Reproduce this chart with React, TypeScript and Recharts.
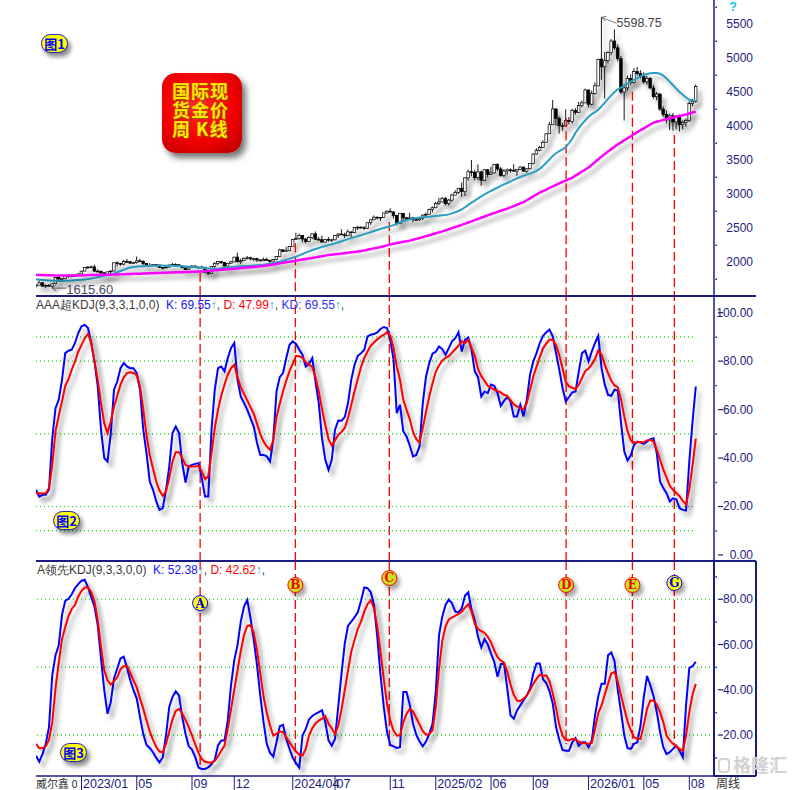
import React from 'react';
import { ComposedChart, Bar, Line, XAxis, YAxis, ReferenceLine, ReferenceDot } from 'recharts';

// weekly gold bars, week 0 = 2022-09-26
const opens = [
  1645, 1660, 1695, 1644, 1657, 1645, 1681, 1771, 1751, 1754,
  1797, 1797, 1793, 1798, 1824, 1866, 1920, 1926, 1928, 1865,
  1865, 1842, 1811, 1856, 1868, 1989, 1978, 1969, 2007, 2004,
  1983, 1990, 2017, 2011, 1978, 1946, 1948, 1961, 1957, 1921,
  1919, 1925, 1955, 1962, 1959, 1943, 1914, 1889, 1915, 1940,
  1919, 1924, 1925, 1849, 1833, 1933, 1981, 2006, 1993, 1940,
  1981, 2002, 2072, 2004, 2019, 2053, 2063, 2045, 2049, 2029,
  2018, 2039, 2024, 2013, 2035, 2083, 2179, 2155, 2165, 2230,
  2329, 2344, 2392, 2337, 2301, 2360, 2414, 2334, 2327, 2293,
  2333, 2321, 2326, 2392, 2411, 2400, 2386, 2443, 2431, 2507,
  2512, 2503, 2497, 2577, 2621, 2658, 2653, 2657, 2721, 2747,
  2736, 2685, 2563, 2716, 2650, 2633, 2648, 2622, 2621, 2640,
  2690, 2702, 2770, 2798, 2861, 2883, 2936, 2858, 2910, 2984,
  3023, 3085, 3037, 3237, 3327, 3319, 3240, 3325, 3203, 3357,
  3289, 3310, 3433, 3368, 3273, 3337, 3355, 3350, 3337, 3363,
  3397, 3336, 3372, 3448, 3587, 3643, 3685, 3760, 3886, 4018,
  4251, 4113, 4003, 4001, 4084, 4065, 4230, 4198, 4300, 4340,
  4530, 4320, 4480, 4590, 4985, 4870, 4960, 5080, 5250, 5150,
  4990, 4500, 4560, 4700, 4640, 4800, 4770, 4730, 4650, 4700,
  4560, 4430, 4470, 4250, 4170, 4090, 4150, 4060, 4130, 4020,
  4050, 4080, 4330, 4360,
];
const highs = [
  1676, 1730, 1697, 1670, 1675, 1685, 1775, 1786, 1761, 1804,
  1810, 1824, 1823, 1833, 1870, 1922, 1935, 1949, 1960, 1890,
  1865, 1847, 1858, 1870, 1989, 2010, 1988, 2032, 2048, 2015,
  2005, 2081, 2048, 2022, 1984, 1983, 1972, 1971, 1958, 1926,
  1935, 1962, 1987, 1982, 1970, 1948, 1920, 1925, 1953, 1953,
  1933, 1947, 1925, 1851, 1935, 1997, 2009, 2007, 1993, 1986,
  2017, 2075, 2135, 2047, 2070, 2088, 2078, 2062, 2062, 2041,
  2066, 2065, 2033, 2041, 2088, 2195, 2182, 2222, 2236, 2330,
  2431, 2418, 2392, 2353, 2378, 2422, 2450, 2364, 2388, 2335,
  2368, 2340, 2392, 2425, 2483, 2432, 2477, 2445, 2509, 2531,
  2526, 2529, 2580, 2625, 2685, 2672, 2661, 2722, 2758, 2790,
  2750, 2686, 2721, 2721, 2657, 2726, 2665, 2639, 2665, 2697,
  2725, 2786, 2817, 2886, 2942, 2955, 2956, 2930, 3005, 3057,
  3086, 3168, 3245, 3358, 3500, 3352, 3435, 3345, 3366, 3366,
  3403, 3446, 3452, 3398, 3365, 3375, 3377, 3438, 3363, 3409,
  3404, 3380, 3453, 3600, 3674, 3707, 3791, 3897, 4059, 4381,
  4255, 4140, 4047, 4245, 4132, 4256, 4264, 4353, 4374, 4550,
  4535, 4520, 4640, 4990, 5598.75, 5090, 5100, 5280, 5420, 5200,
  5030, 4620, 4740, 4760, 4850, 4870, 4820, 4790, 4740, 4720,
  4600, 4500, 4480, 4290, 4230, 4180, 4190, 4160, 4170, 4080,
  4110, 4360, 4400, 4610,
];
const lows = [
  1620, 1660, 1640, 1618, 1637, 1615.6, 1673, 1727, 1721, 1745,
  1765, 1773, 1784, 1795, 1822, 1865, 1896, 1911, 1861, 1852,
  1819, 1804, 1804, 1809, 1858, 1934, 1944, 1950, 1993, 1970,
  1975, 1977, 2001, 1952, 1932, 1938, 1935, 1925, 1911, 1893,
  1902, 1920, 1953, 1942, 1930, 1911, 1885, 1885, 1913, 1915,
  1901, 1914, 1846, 1810, 1823, 1908, 1954, 1970, 1932, 1935,
  1978, 1995, 1995, 1973, 2016, 2034, 2024, 2013, 2001, 2010,
  2016, 2015, 1984, 2010, 2025, 2080, 2146, 2146, 2160, 2228,
  2323, 2330, 2291, 2277, 2298, 2333, 2325, 2320, 2287, 2286,
  2296, 2293, 2319, 2353, 2393, 2353, 2380, 2364, 2430, 2470,
  2491, 2472, 2485, 2546, 2614, 2625, 2603, 2651, 2708, 2727,
  2644, 2537, 2560, 2605, 2614, 2630, 2583, 2612, 2600, 2615,
  2659, 2700, 2730, 2790, 2835, 2880, 2833, 2832, 2880, 2981,
  3000, 2957, 2970, 3193, 3260, 3202, 3202, 3120, 3190, 3245,
  3280, 3300, 3340, 3255, 3247, 3283, 3310, 3324, 3268, 3352,
  3330, 3312, 3362, 3436, 3578, 3628, 3683, 3755, 3883, 4015,
  4004, 3887, 3931, 3997, 4022, 4033, 4165, 4190, 4271, 4340,
  4275, 4305, 4460, 4590, 4680, 4402, 4920, 5040, 5120, 4950,
  4470, 4080, 4520, 4600, 4620, 4740, 4700, 4620, 4610, 4540,
  4400, 4380, 4220, 4130, 4040, 3940, 3930, 3950, 3920, 3950,
  3990, 4060, 4290, 4340,
];
const closes = [
  1660, 1695, 1644, 1657, 1645, 1681, 1771, 1751, 1754, 1797,
  1797, 1793, 1798, 1824, 1866, 1920, 1926, 1928, 1865, 1865,
  1842, 1811, 1856, 1868, 1989, 1978, 1969, 2007, 2004, 1983,
  1990, 2017, 2011, 1978, 1946, 1948, 1961, 1957, 1921, 1919,
  1925, 1955, 1962, 1959, 1943, 1914, 1889, 1915, 1940, 1919,
  1924, 1925, 1849, 1833, 1933, 1981, 2006, 1993, 1940, 1981,
  2002, 2072, 2004, 2019, 2053, 2063, 2045, 2049, 2029, 2018,
  2039, 2024, 2013, 2035, 2083, 2179, 2155, 2165, 2230, 2329,
  2344, 2392, 2337, 2301, 2360, 2414, 2334, 2327, 2293, 2333,
  2321, 2326, 2392, 2411, 2400, 2386, 2443, 2431, 2507, 2512,
  2503, 2497, 2577, 2621, 2658, 2653, 2657, 2721, 2747, 2736,
  2685, 2563, 2716, 2650, 2633, 2648, 2622, 2621, 2640, 2690,
  2702, 2770, 2798, 2861, 2883, 2936, 2858, 2910, 2984, 3023,
  3085, 3037, 3237, 3327, 3319, 3240, 3325, 3203, 3357, 3289,
  3310, 3433, 3368, 3273, 3337, 3355, 3350, 3337, 3363, 3397,
  3336, 3372, 3448, 3587, 3643, 3685, 3760, 3886, 4018, 4251,
  4113, 4003, 4001, 4084, 4065, 4230, 4198, 4300, 4340, 4530,
  4320, 4480, 4590, 4980, 4870, 4960, 5080, 5250, 5150, 4990,
  4500, 4560, 4700, 4640, 4800, 4770, 4730, 4650, 4700, 4560,
  4430, 4470, 4250, 4170, 4090, 4150, 4060, 4130, 4020, 4050,
  4080, 4330, 4360, 4580,
];
const maShort = [
  1745, 1740, 1736, 1732, 1728, 1725, 1723, 1722, 1722, 1723,
  1725, 1727, 1730, 1734, 1738, 1744, 1750, 1758, 1767, 1776,
  1786, 1797, 1808, 1820, 1833, 1850, 1868, 1886, 1904, 1920,
  1928, 1933, 1936, 1939, 1941, 1943, 1945, 1946, 1947, 1947,
  1946, 1945, 1944, 1943, 1941, 1938, 1935, 1931, 1927, 1923,
  1920, 1916, 1911, 1905, 1899, 1897, 1902, 1908, 1914, 1920,
  1926, 1931, 1935, 1938, 1940, 1942, 1945, 1949, 1952, 1956,
  1960, 1968, 1977, 1986, 1995, 2005, 2018, 2032, 2047, 2062,
  2078, 2097, 2117, 2137, 2157, 2176, 2192, 2207, 2222, 2236,
  2248, 2262, 2276, 2290, 2305, 2321, 2336, 2351, 2366, 2381,
  2394, 2410, 2425, 2440, 2455, 2470, 2485, 2500, 2514, 2528,
  2542, 2564, 2582, 2600, 2615, 2627, 2640, 2647, 2652, 2658,
  2663, 2667, 2672, 2676, 2681, 2686, 2690, 2700, 2715, 2732,
  2750, 2775, 2805, 2840, 2872, 2903, 2935, 2965, 2993, 3020,
  3045, 3070, 3095, 3120, 3142, 3162, 3185, 3208, 3230, 3250,
  3268, 3285, 3300, 3318, 3340, 3370, 3410, 3460, 3510, 3560,
  3600, 3630, 3655, 3690, 3750, 3815, 3900, 3970, 4030, 4085,
  4135, 4175, 4205, 4240, 4290, 4345, 4400, 4450, 4500, 4540,
  4565, 4595, 4625, 4655, 4680, 4705, 4730, 4750, 4765, 4775,
  4778, 4778, 4770, 4740, 4700, 4650, 4600, 4550, 4500, 4460,
  4420, 4385, 4375, 4372,
];
const maLong = [
  1809, 1808, 1807, 1806, 1805, 1804, 1803, 1802, 1801, 1800,
  1800, 1800, 1801, 1802, 1803, 1805, 1806, 1808, 1809, 1810,
  1811, 1812, 1813, 1814, 1815, 1816, 1818, 1820, 1822, 1824,
  1826, 1827, 1829, 1830, 1832, 1834, 1836, 1838, 1840, 1842,
  1843, 1845, 1846, 1848, 1850, 1851, 1853, 1854, 1856, 1858,
  1860, 1862, 1865, 1869, 1873, 1877, 1881, 1885, 1889, 1894,
  1898, 1902, 1906, 1910, 1914, 1918, 1922, 1926, 1931, 1936,
  1941, 1948, 1956, 1964, 1972, 1980, 1988, 1996, 2004, 2012,
  2020, 2028, 2036, 2044, 2052, 2060, 2068, 2076, 2085, 2094,
  2102, 2108, 2113, 2118, 2124, 2130, 2136, 2142, 2148, 2155,
  2161, 2170, 2180, 2190, 2200, 2210, 2220, 2232, 2244, 2256,
  2268, 2278, 2288, 2297, 2306, 2314, 2327, 2340, 2353, 2366,
  2380, 2394, 2408, 2422, 2436, 2450, 2466, 2482, 2498, 2514,
  2530, 2547, 2564, 2581, 2598, 2615, 2633, 2651, 2669, 2687,
  2705, 2721, 2737, 2753, 2769, 2785, 2804, 2823, 2842, 2861,
  2880, 2908, 2936, 2964, 2992, 3020, 3043, 3066, 3089, 3112,
  3135, 3156, 3177, 3198, 3219, 3240, 3270, 3300, 3330, 3360,
  3390, 3430, 3470, 3510, 3550, 3590, 3625, 3660, 3695, 3730,
  3760, 3790, 3820, 3850, 3880, 3910, 3938, 3966, 3994, 4022,
  4050, 4063, 4076, 4089, 4102, 4115, 4126, 4137, 4148, 4159,
  4170, 4184, 4198, 4211,
];

// AAA超KDJ
const superK = [
  26.9, 24.1, 24.8, 24.8, 27, 48, 60.6, 64.1, 72.3, 83.3,
  84.3, 84.7, 87.5, 91.6, 94.4, 95.0, 93.7, 87.5, 79.9, 69.6,
  51.7, 40.0, 38.6, 50.0, 68.2, 71.6, 77.1, 79.2, 77.8, 77.1,
  77.1, 75.1, 68.2, 51.7, 42.0, 30.3, 26.9, 22.1, 18.6, 19.3,
  26.9, 36.5, 50.3, 53.0, 50.3, 37.9, 29.9, 36.5, 37.2, 37.6,
  37.9, 31.7, 24.1, 24.1, 51.7, 68.2, 77.1, 77.8, 75.8, 81.3,
  85.4, 87.5, 72.3, 65.4, 62.7, 59.9, 56.5, 53.0, 46.2, 41.3,
  41.3, 40.7, 38.6, 47.5, 67.5, 73.4, 75.1, 81.3, 86.8, 88.2,
  87.1, 84.7, 82.6, 77.8, 78.9, 81.3, 71.6, 62.7, 48.2, 39.3,
  35.1, 39.3, 51.7, 55.5, 55.4, 56.9, 62.7, 72.3, 78.5, 82.2,
  83.3, 84.7, 90.2, 90.9, 91.2, 91.9, 93.3, 94.1, 93.7, 88.8,
  80.6, 58.5, 62.0, 51.0, 48.9, 45.1, 40.7, 41.3, 44.8, 62.7,
  73.7, 79.2, 83.1, 83.9, 86.1, 85.0, 82.6, 85.4, 88.2, 89.5,
  91.9, 84.0, 88.8, 89.8, 84.7, 75.8, 73.4, 65.4, 67.5, 66.8,
  70.3, 69.8, 66.8, 61.6, 63.6, 65.2, 63.4, 57.2, 57.2, 62.0,
  57.2, 64.1, 74.4, 79.9, 83.3, 87.5, 90.5, 91.9, 93.0, 90.2,
  83.3, 76.5, 68.9, 63.4, 65.2, 67.1, 67.5, 75.8, 83.3, 84.3,
  79.9, 84.0, 87.5, 90.5, 77.1, 70.3, 66.1, 65.7, 68.2, 67.9,
  54.4, 42.7, 39.0, 41.1, 45.5, 46.8, 46.4, 45.9, 46.8, 47.8,
  48.2, 42.0, 30.3, 27.6, 25.5, 22.1, 23.4, 23.0, 19.3, 18.6,
  18.3, 38.6, 55.1, 69.55,
];
const superD = [
  25.5, 25.5, 25.4, 25.5, 27.6, 37.2, 51.0, 57.5, 63.4, 69.8,
  72.6, 76.5, 79.9, 83.9, 86.6, 89.4, 91.3, 87.5, 79.9, 72.3,
  62.7, 54.4, 50.3, 55.1, 61.3, 65.7, 70.3, 73.4, 75.1, 75.4,
  75.1, 74.2, 69.6, 60.2, 49.5, 41.2, 35.7, 30.3, 26.6, 24.4,
  26.2, 31.7, 38.6, 42.4, 42.4, 40.0, 37.2, 36.5, 36.5, 36.5,
  36.8, 34.5, 31.3, 32.4, 42.0, 52.4, 59.9, 65.7, 70.3, 74.4,
  77.1, 78.5, 73.4, 69.3, 66.5, 63.8, 61.0, 58.3, 54.1, 50.0,
  46.8, 44.8, 43.4, 47.3, 56.9, 62.4, 67.6, 71.9, 75.9, 78.9,
  82.2, 82.0, 81.4, 79.5, 78.7, 77.6, 73.4, 67.5, 60.2, 53.7,
  47.8, 45.1, 47.3, 49.6, 50.8, 52.4, 56.5, 62.0, 67.5, 72.6,
  77.6, 81.3, 84.0, 86.4, 87.7, 89.0, 90.1, 90.8, 91.9, 90.5,
  85.4, 77.8, 72.3, 64.1, 59.9, 56.1, 50.8, 47.8, 46.4, 52.4,
  59.1, 65.4, 70.9, 75.6, 78.2, 80.2, 81.4, 82.1, 83.5, 84.9,
  86.4, 88.2, 87.5, 88.8, 85.5, 82.2, 76.7, 73.8, 71.9, 69.8,
  69.0, 68.3, 67.6, 67.1, 66.1, 65.7, 63.9, 62.1, 61.3, 60.6,
  60.2, 62.7, 68.2, 73.7, 77.7, 81.7, 85.3, 87.3, 88.8, 88.8,
  86.6, 82.4, 77.0, 71.5, 69.7, 69.0, 68.5, 70.3, 73.1, 75.9,
  77.0, 78.7, 80.9, 84.4, 82.8, 78.5, 75.1, 71.9, 70.0, 69.3,
  64.1, 57.2, 51.1, 47.3, 46.4, 46.4, 46.7, 46.4, 47.3, 47.5,
  46.8, 43.4, 39.3, 35.3, 32.0, 28.5, 26.9, 25.6, 24.3, 22.3,
  20.8, 26.9, 37.2, 47.99,
];

// A领先KDJ
const leadK = [
  10.9, 8.2, 11.6, 16.1, 23.5, 46.4, 55.3, 59.7, 73.1, 79.3,
  80.2, 82.2, 84.9, 86.7, 88.2, 88.6, 85.3, 80.9, 76.8, 68.6,
  53.8, 39.8, 29.4, 34.6, 45.0, 49.4, 53.8, 54.6, 49.7, 44.2,
  39.8, 36.1, 27.9, 20.5, 15.6, 14.3, 12.4, 9.9, 7.9, 10.2,
  19.8, 32.4, 36.8, 39.3, 37.5, 27.9, 20.5, 15.0, 13.6, 10.2,
  5.6, 5.0, 5.0, 5.7, 7.2, 9.1, 15.4, 17.6, 17.6, 26.4,
  42.0, 53.1, 59.7, 70.1, 76.8, 79.7, 71.6, 62.0, 50.9, 37.5,
  25.7, 16.1, 12.1, 10.5, 16.8, 23.9, 24.5, 18.3, 13.9, 9.9,
  7.6, 5.6, 19.8, 22.7, 26.9, 28.4, 29.4, 30.1, 30.9, 25.7,
  17.6, 15.3, 18.3, 32.8, 47.2, 60.5, 68.3, 70.1, 72.0, 74.2,
  79.3, 85.2, 84.9, 83.1, 77.5, 63.4, 46.4, 32.4, 21.3, 15.6,
  15.0, 14.3, 14.6, 39.0, 39.0, 33.4, 25.0, 20.1, 17.1, 15.0,
  17.1, 20.5, 25.0, 39.0, 64.2, 72.3, 77.5, 79.9, 78.2, 74.5,
  74.2, 76.0, 81.6, 83.1, 75.3, 70.8, 63.4, 58.7, 62.4, 60.0,
  56.0, 52.3, 45.7, 51.3, 51.6, 40.5, 28.7, 27.2, 30.9, 33.1,
  35.3, 37.5, 40.5, 47.2, 51.6, 51.6, 44.6, 43.0, 39.3, 33.8,
  23.5, 17.9, 13.4, 13.1, 13.1, 16.8, 18.6, 15.3, 16.8, 16.8,
  14.6, 17.6, 28.7, 37.2, 42.7, 42.7, 55.3, 56.5, 52.6, 39.8,
  30.1, 19.8, 14.2, 13.9, 16.1, 16.8, 24.2, 36.8, 46.1, 42.0,
  37.2, 30.1, 21.3, 14.6, 11.6, 12.4, 13.9, 15.3, 13.1, 10.2,
  33.1, 49.7, 50.4, 52.38,
];
const leadD = [
  16.1, 14.2, 14.2, 15.0, 18.0, 25.7, 40.5, 52.0, 62.4, 67.7,
  72.5, 75.7, 77.5, 81.2, 83.7, 85.2, 85.3, 83.1, 79.0, 70.8,
  59.0, 48.6, 44.2, 42.3, 43.8, 45.5, 49.1, 50.4, 50.6, 47.4,
  44.1, 41.1, 36.1, 31.6, 26.6, 21.6, 17.9, 14.7, 12.7, 12.4,
  16.2, 21.6, 26.9, 30.7, 31.6, 29.4, 26.6, 23.5, 19.8, 15.9,
  12.1, 9.4, 8.2, 7.9, 7.9, 8.5, 10.6, 13.1, 15.3, 22.7,
  31.3, 40.1, 48.6, 57.1, 64.2, 68.2, 68.6, 65.2, 57.5, 47.2,
  37.1, 29.8, 24.2, 19.8, 20.5, 21.6, 21.3, 19.0, 16.8, 14.6,
  12.7, 11.3, 10.9, 13.9, 19.8, 23.0, 25.1, 26.4, 27.2, 28.4,
  25.0, 23.0, 20.5, 24.2, 31.3, 39.9, 48.6, 56.8, 62.0, 66.8,
  70.1, 74.5, 77.8, 79.6, 76.0, 67.9, 56.8, 44.6, 33.8, 26.4,
  22.0, 19.8, 19.8, 25.6, 29.3, 31.5, 30.4, 27.5, 24.7, 21.7,
  20.2, 20.4, 22.1, 32.4, 49.4, 61.5, 67.9, 71.1, 71.9, 72.8,
  73.5, 74.5, 76.3, 77.8, 74.5, 69.1, 66.8, 65.9, 65.2, 63.4,
  60.9, 57.4, 54.4, 52.9, 52.0, 47.9, 42.3, 37.8, 35.2, 35.0,
  36.1, 37.5, 39.8, 42.6, 44.8, 46.7, 46.1, 46.4, 43.8, 38.3,
  31.9, 24.5, 19.8, 17.9, 17.6, 18.3, 18.0, 17.1, 16.4, 16.5,
  16.1, 16.5, 22.7, 29.7, 33.1, 37.8, 42.7, 47.2, 47.9, 43.5,
  37.5, 31.6, 26.1, 22.1, 19.0, 18.4, 18.3, 24.5, 31.6, 35.3,
  35.3, 33.4, 30.1, 25.7, 19.8, 17.6, 16.1, 15.0, 13.9, 13.1,
  19.8, 30.1, 37.8, 42.62,
];

const monthTicks = [14, 31, 48, 61, 79, 92, 109, 123, 140, 153, 170, 187, 201];
const monthLabels = ['2023/01', '05', '09', '12', '2024/04', '07', '11', '2025/02', '06', '09', '2026/01', '05', '08'];

const priceTicks = [1750, 2000, 2250, 2500, 2750, 3000, 3250, 3500, 3750, 4000, 4250, 4500, 4750, 5000, 5250, 5500, 5750];
const superTicks = [0, 10, 20, 30, 40, 50, 60, 70, 80, 90, 100];
const leadTicks = [10, 20, 30, 40, 50, 60, 70, 80, 90];
const superGrid = [90, 80, 50, 20, 10];
const leadGrid = [80, 50, 20];

// signal markers A..G
const signalWeeks = [50.5, 79.8, 108.7, 163.1, 183.5, 196.4];
const signalNames = ['A', 'B', 'C', 'D', 'E', 'G'];
const signalPrices = [1838, 2275, 2590, 4113, 4505, 3868];
const signalMarkLevels = [78.3, 86.3, 89.4, 86.3, 86.3, 87.2];
const signalEndLevels = [5, 7, 15, 16, 14, 16];

const data = closes.map((close, i) => ({
  i,
  open: opens[i],
  high: highs[i],
  low: lows[i],
  close,
  range: [lows[i], highs[i]],
  ma20: maShort[i],
  ma60: maLong[i],
  k: superK[i],
  d: superD[i],
  lk: leadK[i],
  ld: leadD[i],
}));

const NAVY = '#1c1c80';
const FONT = 'Arial, "Liberation Sans", sans-serif';
const CJK = '"Noto Sans CJK SC", sans-serif';
const X_DOMAIN: [number, number] = [0, 208.6];
const margin = { top: 0, right: 45, bottom: 0, left: 36 };

const Candle = (props: any) => {
  const { x, y, width, height, payload } = props;
  const { open, close, high, low } = payload;
  const cx = x + width / 2;
  const span = high - low || 1;
  const py = (v: number) => y + ((high - v) / span) * height;
  const top = py(Math.max(open, close));
  const bot = py(Math.min(open, close));
  const up = close >= open;
  return (
    <g>
      <line x1={cx} x2={cx} y1={y} y2={y + height} stroke="#000" strokeWidth={0.9} />
      <rect x={cx - 1.3} y={top} width={2.6} height={Math.max(bot - top, 0.8)} fill={up ? '#fff' : '#000'} stroke="#000" strokeWidth={0.7} />
    </g>
  );
};

const PriceTick = (p: any) => {
  const v = p.payload.value;
  if (v % 500 !== 0) return <rect x={p.x + 1.5} y={p.y - 0.5} width={1.5} height={1.5} fill={NAVY} />;
  return (
    <text x={p.x + 39} y={p.y} textAnchor="end" dominantBaseline="central" fontSize={12} fontFamily={FONT} fill={NAVY}>
      {v}
    </text>
  );
};

const makeKdjTick = (isMajor: (v: number) => boolean) => (p: any) => {
  const v = p.payload.value;
  if (!isMajor(v)) return <rect x={p.x + 1.5} y={p.y - 0.5} width={1.5} height={1.5} fill={NAVY} />;
  return (
    <g>
      <line x1={p.x + 4} x2={p.x + 9} y1={p.y} y2={p.y} stroke={NAVY} strokeWidth={1.2} />
      <text x={p.x + 39} y={p.y} textAnchor="end" dominantBaseline="central" fontSize={12} fontFamily={FONT} fill={NAVY}>
        {v.toFixed(2)}
      </text>
    </g>
  );
};
const SuperTick = makeKdjTick((v) => v % 20 === 0);
const LeadTick = makeKdjTick((v) => v % 20 === 0);

const MonthTick = (p: any) => {
  const idx = monthTicks.indexOf(p.payload.value);
  return (
    <g>
      <line x1={p.x} x2={p.x} y1={p.y} y2={p.y + 14} stroke={NAVY} strokeWidth={1} />
      <text x={p.x + 1.5} y={p.y + 12} fontSize={12.5} fontFamily={FONT} fill={NAVY}>
        {monthLabels[idx]}
      </text>
    </g>
  );
};

const PeakLabel = (p: any) => (
  <g>
    <line x1={p.cx} y1={p.cy} x2={p.cx + 15} y2={p.cy + 6} stroke="#555" strokeWidth={0.8} />
    <polyline points={`${p.cx + 5},${p.cy - 1} ${p.cx},${p.cy} ${p.cx + 4},${p.cy + 4}`} fill="none" stroke="#555" strokeWidth={0.8} />
    <text x={p.cx + 15} y={p.cy + 6} dominantBaseline="central" fontSize={12.5} fontFamily={FONT} fill="#444">
      5598.75
    </text>
  </g>
);

const LowLabel = (p: any) => (
  <g>
    <line x1={p.cx} y1={p.cy} x2={p.cx + 14} y2={p.cy} stroke="#444" strokeWidth={0.8} />
    <polyline points={`${p.cx + 4},${p.cy - 3} ${p.cx},${p.cy} ${p.cx + 4},${p.cy + 3}`} fill="none" stroke="#444" strokeWidth={0.8} />
    <text x={p.cx + 14} y={p.cy + 1} dominantBaseline="central" fontSize={13} fontFamily={FONT} fill="#4a4a66">
      1615.60
    </text>
  </g>
);

const SignalMark = ({ cx, cy, letter }: any) => {
  const blue = letter === 'A' || letter === 'G';
  return (
    <g>
      <circle cx={cx + 3} cy={cy + 4} r={8} fill="#000" opacity={0.35} filter="url(#blurMark)" />
      <circle cx={cx} cy={cy} r={7.5} fill={blue ? '#ffff00' : '#c4e41c'} stroke={blue ? '#0000ff' : '#ff0000'} strokeWidth={1} />
      <text x={cx} y={cy + 0.5} textAnchor="middle" dominantBaseline="central" fontSize={12} fontWeight="bold" fontFamily='"DejaVu Serif", serif' fill={blue ? '#0000ff' : '#ff0000'}>
        {letter}
      </text>
    </g>
  );
};

const Badge = ({ left, top, n }: { left: number; top: number; n: number }) => (
  <div
    style={{
      position: 'absolute', left, top, width: 27, height: 19, borderRadius: 10, background: '#ffff00',
      border: '1px solid #2020c0', boxShadow: '3px 4px 4px rgba(0,0,0,0.45)', color: '#0000ff',
      font: `bold 13px ${CJK}`, lineHeight: '17px', textAlign: 'center', boxSizing: 'border-box',
    }}
  >
    图{n}
  </div>
);

const dash = { stroke: '#ff0000', strokeWidth: 1.3, strokeDasharray: '9 4' };
const shadowCss = '.sh { filter: url(#ds); }';

export default function App() {
  return (
    <div style={{ position: 'absolute', left: 0, top: 0, width: 801, height: 790, background: '#fff', overflow: 'hidden' }}>
      <style>{shadowCss}</style>
      <svg width={0} height={0} style={{ position: 'absolute' }}>
        <defs>
          <filter id="ds" x="-5%" y="-10%" width="115%" height="130%">
            <feDropShadow dx="4" dy="5" stdDeviation="2" floodColor="#000" floodOpacity="0.33" />
          </filter>
          <filter id="blurMark" x="-50%" y="-50%" width="200%" height="200%">
            <feGaussianBlur stdDeviation="2" />
          </filter>
        </defs>
      </svg>

      {/* panel 1: weekly candles */}
      <div style={{ position: 'absolute', left: 0, top: 0 }}>
        <ComposedChart width={801} height={296} data={data} margin={margin}>
          <XAxis dataKey="i" type="number" domain={X_DOMAIN} hide allowDataOverflow />
          <YAxis
            orientation="right" width={42} domain={[1500, 5853]} ticks={priceTicks} interval={0} allowDataOverflow
            tickSize={0} tickMargin={0} tickLine={false} axisLine={{ stroke: NAVY, strokeWidth: 1.5 }} tick={PriceTick}
          />
          {signalWeeks.map((w, n) => (
            <ReferenceLine key={n} segment={[{ x: w, y: signalPrices[n] }, { x: w, y: 1500 }]} {...dash} />
          ))}
          <Bar dataKey="range" barSize={3} shape={(p: any) => <Candle {...p} />} isAnimationActive={false} className="sh" />
          <Line dataKey="ma20" stroke="#2a9ec0" strokeWidth={2} dot={false} isAnimationActive={false} className="sh" />
          <Line dataKey="ma60" stroke="#ff00ff" strokeWidth={2.5} dot={false} isAnimationActive={false} className="sh" />
          <ReferenceDot x={174} y={5598.75} r={0} shape={PeakLabel} ifOverflow="visible" />
          <ReferenceDot x={5} y={1615.6} r={0} shape={LowLabel} ifOverflow="visible" />
        </ComposedChart>
      </div>

      {/* panel 2: AAA超KDJ */}
      <div style={{ position: 'absolute', left: 0, top: 296 }}>
        <ComposedChart width={801} height={265} data={data} margin={margin}>
          <XAxis dataKey="i" type="number" domain={X_DOMAIN} hide allowDataOverflow />
          <YAxis
            orientation="right" width={42} domain={[-2.5, 106.9]} ticks={superTicks} interval={0} allowDataOverflow
            tickSize={0} tickMargin={0} tickLine={false} axisLine={{ stroke: NAVY, strokeWidth: 1.5 }} tick={SuperTick}
          />
          {superGrid.map((g) => (
            <ReferenceLine key={g} segment={[{ x: 0, y: g }, { x: 203, y: g }]} stroke="#00d800" strokeDasharray="1 3" strokeWidth={1.2} />
          ))}
          {signalWeeks.map((w, n) => (
            <ReferenceLine key={n} x={w} {...dash} />
          ))}
          <Line dataKey="k" stroke="#0000ff" strokeWidth={2} dot={false} isAnimationActive={false} className="sh" />
          <Line dataKey="d" stroke="#ff0000" strokeWidth={2} dot={false} isAnimationActive={false} className="sh" />
        </ComposedChart>
      </div>

      {/* panel 3: A领先KDJ */}
      <div style={{ position: 'absolute', left: 0, top: 561 }}>
        <ComposedChart width={801} height={229} data={data} margin={margin}>
          <XAxis
            dataKey="i" type="number" domain={X_DOMAIN} allowDataOverflow ticks={monthTicks} interval={0} height={14}
            tickSize={0} tickMargin={0} tickLine={false} axisLine={{ stroke: NAVY, strokeWidth: 1.5 }} tick={MonthTick}
          />
          <YAxis
            orientation="right" width={42} domain={[1.9, 96.9]} ticks={leadTicks} interval={0} allowDataOverflow
            tickSize={0} tickMargin={0} tickLine={false} axisLine={{ stroke: NAVY, strokeWidth: 2 }} tick={LeadTick}
          />
          {leadGrid.map((g) => (
            <ReferenceLine key={g} y={g} stroke="#00d800" strokeDasharray="1 3" strokeWidth={1.2} />
          ))}
          {signalWeeks.map((w, n) => (
            <ReferenceLine key={n} segment={[{ x: w, y: 96.9 }, { x: w, y: signalEndLevels[n] }]} {...dash} />
          ))}
          <Line dataKey="lk" stroke="#0000ff" strokeWidth={2} dot={false} isAnimationActive={false} className="sh" />
          <Line dataKey="ld" stroke="#ff0000" strokeWidth={2} dot={false} isAnimationActive={false} className="sh" />
          {signalWeeks.map((w, n) => (
            <ReferenceDot
              key={n} x={w} y={signalMarkLevels[n]} r={0} ifOverflow="visible"
              shape={(p: any) => <SignalMark cx={p.cx} cy={p.cy} letter={signalNames[n]} />}
            />
          ))}
        </ComposedChart>
      </div>

      {/* frame lines */}
      <div style={{ position: 'absolute', left: 36, top: 295, width: 720, height: 1.5, background: NAVY }} />
      <div style={{ position: 'absolute', left: 36, top: 560, width: 720, height: 2, background: NAVY }} />
      <div style={{ position: 'absolute', left: 755, top: 561, width: 1.5, height: 215, background: NAVY }} />
      <div style={{ position: 'absolute', left: 714, top: 775, width: 42, height: 1.5, background: NAVY }} />

      {/* titles */}
      <div style={{ position: 'absolute', left: 36, top: 298, font: `12px ${FONT}`, lineHeight: '14px', whiteSpace: 'pre' }}>
        <span style={{ color: '#3a3a3a' }}>AAA超KDJ(9,3,3,1,0,0)  </span>
        <span style={{ color: '#1414ff' }}>K: 69.55</span>
        <span style={{ color: '#1a9cc8' }}>↑</span>
        <span style={{ color: '#3a3a3a' }}>, </span>
        <span style={{ color: '#ff0000' }}>D: 47.99</span>
        <span style={{ color: '#1a9cc8' }}>↑</span>
        <span style={{ color: '#3a3a3a' }}>, </span>
        <span style={{ color: '#3030ff' }}>KD: 69.55</span>
        <span style={{ color: '#1a9cc8' }}>↑</span>
        <span style={{ color: '#3a3a3a' }}>,</span>
      </div>
      <div style={{ position: 'absolute', left: 37, top: 563, font: `12px ${FONT}`, lineHeight: '14px', whiteSpace: 'pre' }}>
        <span style={{ color: '#3a3a3a' }}>A领先KDJ(9,3,3,0,0)  </span>
        <span style={{ color: '#1414ff' }}>K: 52.38</span>
        <span style={{ color: '#1a9cc8' }}>↑</span>
        <span style={{ color: '#3a3a3a' }}>, </span>
        <span style={{ color: '#ff0000' }}>D: 42.62</span>
        <span style={{ color: '#1a9cc8' }}>↑</span>
        <span style={{ color: '#3a3a3a' }}>,</span>
      </div>

      <Badge left={41} top={34} n={1} />
      <Badge left={53} top={511} n={2} />
      <Badge left={60} top={743} n={3} />

      {/* title box */}
      <div
        style={{
          position: 'absolute', left: 162, top: 73, width: 80, height: 80, borderRadius: 14,
          background: 'radial-gradient(circle at 45% 40%, #ff2a2a 0%, #f20000 55%, #b80000 100%)',
          boxShadow: '4px 5px 6px rgba(0,0,0,0.55)', color: '#ffe600', font: `bold 18px ${CJK}`,
          lineHeight: '19px', padding: '8px 0 0 10px', boxSizing: 'border-box', whiteSpace: 'pre', letterSpacing: 1,
          textShadow: '1px 1px 0 #9a5a00',
        }}
      >
        {'国际现\n货金价\n周 K线'}
      </div>

      <div style={{ position: 'absolute', left: 729, top: 0, color: '#10c8e8', font: `bold 13px ${FONT}`, lineHeight: '14px' }}>?</div>

      <div
        style={{
          position: 'absolute', left: 36, top: 777, height: 12, background: '#fff',
          font: `11px ${CJK}`, lineHeight: '12px', color: '#333', whiteSpace: 'pre',
        }}
      >
        威尔鑫 0
      </div>
      <div
        style={{
          position: 'absolute', left: 718, top: 758, width: 12, height: 15, border: '2px solid #d2d2d2',
          borderRadius: 4, boxSizing: 'border-box',
        }}
      />
      <div style={{ position: 'absolute', left: 733, top: 754, font: `bold 18px ${CJK}`, color: '#d2d2d2', lineHeight: '20px' }}>
        格隆汇
      </div>
      <div style={{ position: 'absolute', left: 716, top: 776, font: `12px ${CJK}`, lineHeight: '13px', color: '#333' }}>周线</div>
    </div>
  );
}
